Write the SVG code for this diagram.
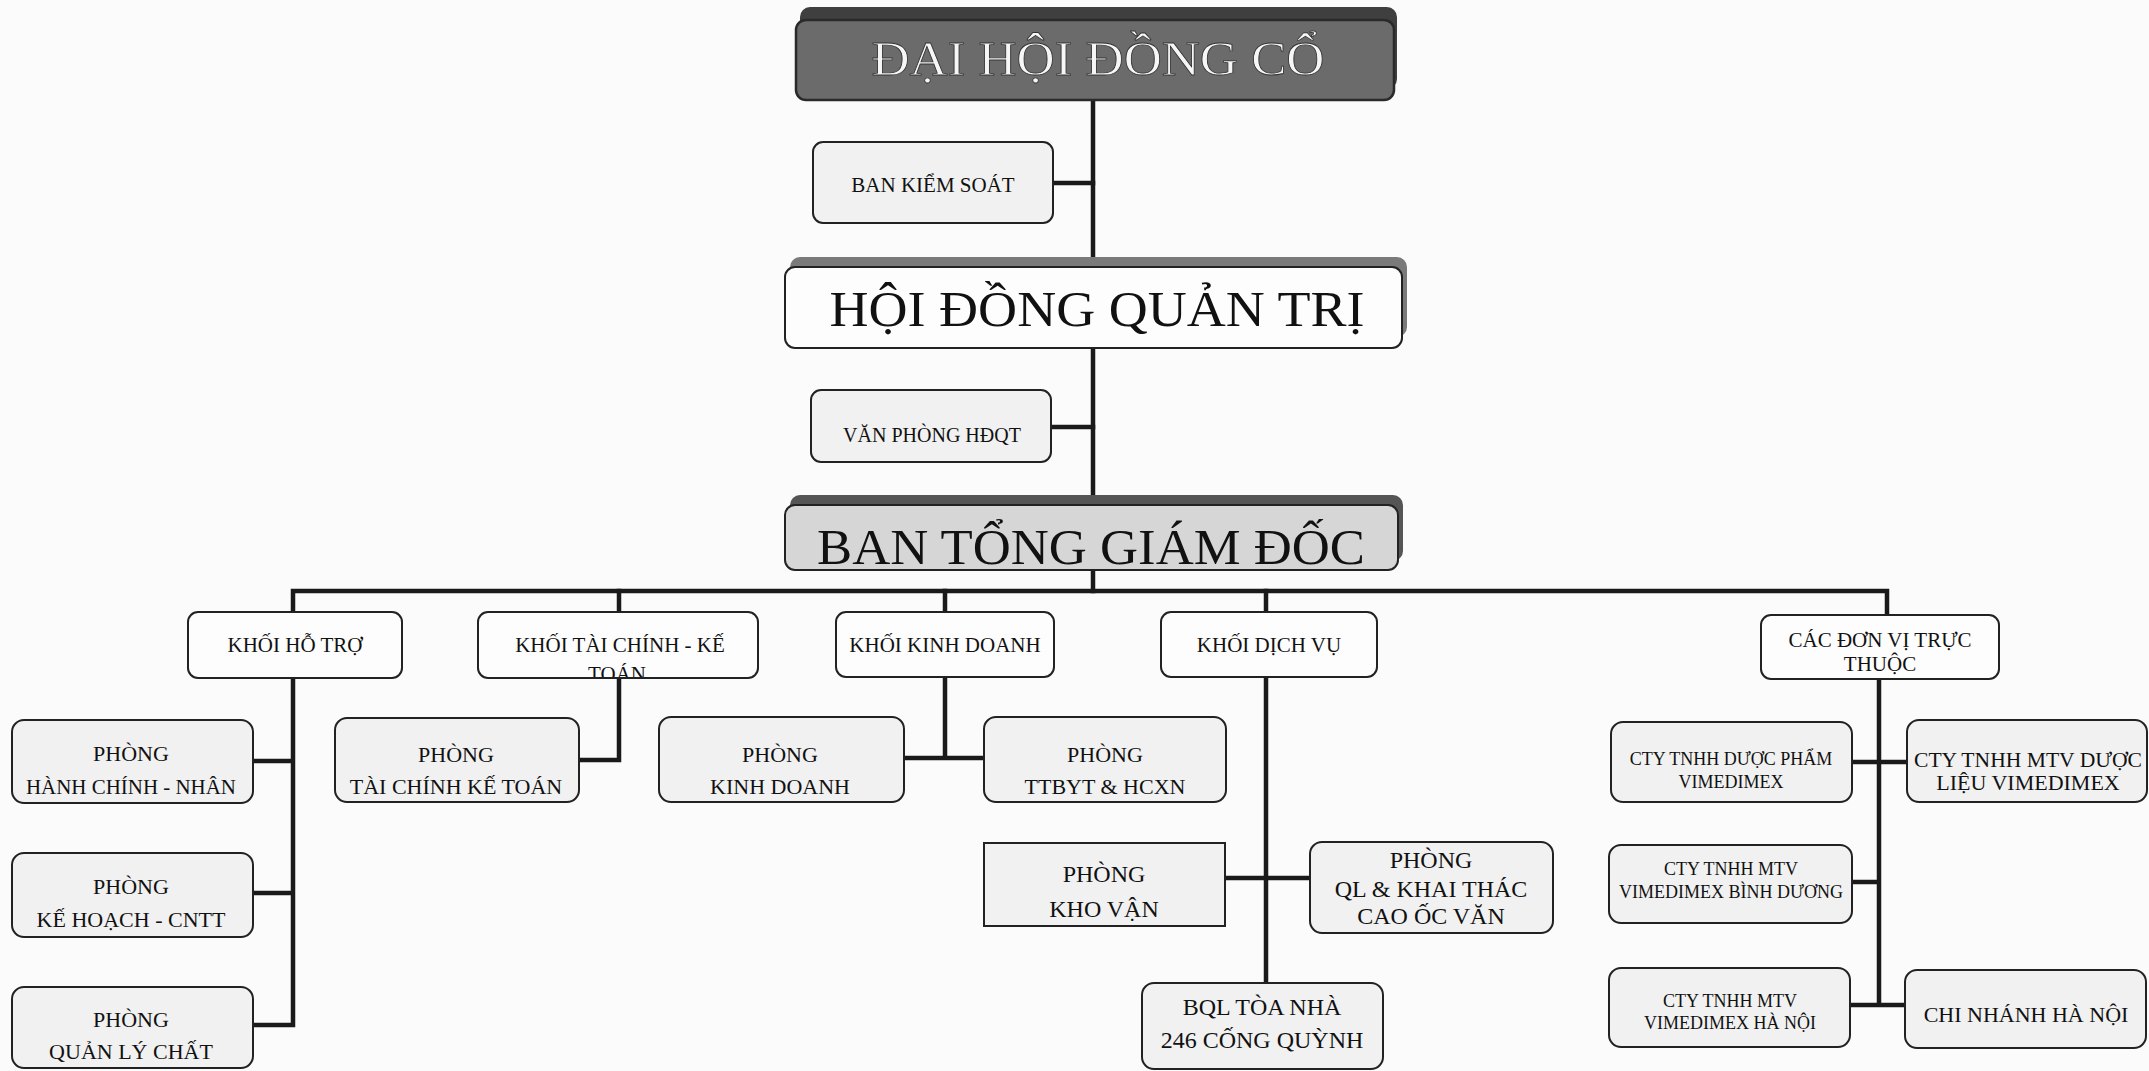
<svg xmlns="http://www.w3.org/2000/svg" width="2149" height="1071" viewBox="0 0 2149 1071">
<defs>
<style>
text{font-family:"Liberation Serif","Times New Roman",serif;fill:#111;text-anchor:middle}
.c{stroke:#1a1a1a;stroke-width:4.5;fill:none;stroke-linecap:square}
.b{fill:#fdfdfd;stroke:#222;stroke-width:2}
.g{fill:#f1f1f1;stroke:#222;stroke-width:2}
.s{font-size:21px}
.m{font-size:22px}
.l{font-size:24px}
.x{font-size:18px}
.y{font-size:22px}
</style>
<clipPath id="clipTC"><rect x="478" y="613" width="280" height="64" rx="10"/></clipPath>
</defs>
<rect width="2149" height="1071" fill="#fbfbfb"/>
<g id="connectors">
<path class="c" d="M1093 100V505"/>
<path class="c" d="M1053 183H1093"/>
<path class="c" d="M1051 427H1093"/>
<path class="c" d="M1093 570V591"/>
<path class="c" d="M293 612V591H1887V615"/>
<path class="c" d="M619 591V612M945 591V612M1266 591V612"/>
<path class="c" d="M293 678V1025M253 761H293M253 893H293M253 1025H293"/>
<path class="c" d="M619 678V760H579"/>
<path class="c" d="M945 677V758M904 758H984"/>
<path class="c" d="M1266 677V983M1225 878H1310"/>
<path class="c" d="M1879 679V1005M1852 762H1907M1852 882H1879M1850 1005H1905"/>
</g>
<g id="dai-hoi-dong-co">
<rect x="800" y="7" width="597" height="82" rx="10" fill="#3f3f3f"/>
<rect x="796" y="20" width="598" height="80" rx="10" fill="#6b6b6b" stroke="#2a2a2a" stroke-width="2.5"/>
<text x="1098" y="75" font-size="48" textLength="453" lengthAdjust="spacingAndGlyphs" style="fill:#f6f6f6;stroke:#333;stroke-width:0.8">ĐẠI HỘI ĐỒNG CỔ</text>
</g>
<g id="ban-kiem-soat">
<rect class="g" x="813" y="142" width="240" height="81" rx="10"/>
<text class="s" x="933" y="192">BAN KIỂM SOÁT</text>
</g>
<g id="hoi-dong-quan-tri">
<rect x="790" y="257" width="617" height="80" rx="10" fill="#7a7a7a"/>
<rect class="b" x="785" y="267" width="617" height="81" rx="10"/>
<text x="1097" y="326" font-size="51" textLength="535" lengthAdjust="spacingAndGlyphs">HỘI ĐỒNG QUẢN TRỊ</text>
</g>
<g id="van-phong-hdqt">
<rect class="g" x="811" y="390" width="240" height="72" rx="10"/>
<text x="932" y="442" font-size="20">VĂN PHÒNG HĐQT</text>
</g>
<g id="ban-tong-giam-doc">
<rect x="790" y="495" width="613" height="66" rx="10" fill="#555"/>
<rect x="785" y="505" width="613" height="65" rx="10" fill="#d6d6d6" stroke="#222" stroke-width="2"/>
<text x="1091" y="564" font-size="50" textLength="548" lengthAdjust="spacingAndGlyphs">BAN TỔNG GIÁM ĐỐC</text>
</g>
<g id="khoi-ho-tro">
<rect class="b" x="188" y="612" width="214" height="66" rx="10"/>
<text class="s" x="295" y="652">KHỐI HỖ TRỢ</text>
</g>
<g id="khoi-tai-chinh">
<rect class="b" x="478" y="612" width="280" height="66" rx="10"/>
<g clip-path="url(#clipTC)">
<text class="s" x="620" y="652">KHỐI TÀI CHÍNH - KẾ</text>
<text class="s" x="617" y="681">TOÁN</text>
</g>
</g>
<g id="khoi-kinh-doanh">
<rect class="b" x="836" y="612" width="218" height="65" rx="10"/>
<text class="s" x="945" y="652">KHỐI KINH DOANH</text>
</g>
<g id="khoi-dich-vu">
<rect class="b" x="1161" y="612" width="216" height="65" rx="10"/>
<text class="s" x="1269" y="652">KHỐI DỊCH VỤ</text>
</g>
<g id="cac-don-vi">
<rect class="b" x="1761" y="615" width="238" height="64" rx="10"/>
<text class="s" x="1880" y="647">CÁC ĐƠN VỊ TRỰC</text>
<text class="s" x="1880" y="671">THUỘC</text>
</g>
<g id="phong-hanh-chinh">
<rect class="g" x="12" y="720" width="241" height="83" rx="12"/>
<text class="m" x="131" y="761">PHÒNG</text>
<text class="m" x="131" y="794" textLength="210" lengthAdjust="spacingAndGlyphs">HÀNH CHÍNH - NHÂN</text>
</g>
<g id="phong-ke-hoach">
<rect class="g" x="12" y="853" width="241" height="84" rx="12"/>
<text class="m" x="131" y="894">PHÒNG</text>
<text class="m" x="131" y="927">KẾ HOẠCH - CNTT</text>
</g>
<g id="phong-quan-ly-chat">
<rect class="g" x="12" y="987" width="241" height="81" rx="12"/>
<text class="m" x="131" y="1027">PHÒNG</text>
<text class="m" x="131" y="1059">QUẢN LÝ CHẤT</text>
</g>
<g id="phong-tai-chinh">
<rect class="g" x="335" y="718" width="244" height="84" rx="12"/>
<text class="m" x="456" y="762">PHÒNG</text>
<text class="m" x="456" y="794">TÀI CHÍNH KẾ TOÁN</text>
</g>
<g id="phong-kinh-doanh">
<rect class="g" x="659" y="717" width="245" height="85" rx="12"/>
<text class="m" x="780" y="762">PHÒNG</text>
<text class="m" x="780" y="794">KINH DOANH</text>
</g>
<g id="phong-ttbyt">
<rect class="g" x="984" y="717" width="242" height="85" rx="12"/>
<text class="m" x="1105" y="762">PHÒNG</text>
<text class="m" x="1105" y="794">TTBYT &amp; HCXN</text>
</g>
<g id="phong-kho-van">
<rect class="g" x="984" y="843" width="241" height="83"/>
<text class="l" x="1104" y="882">PHÒNG</text>
<text class="l" x="1104" y="917">KHO VẬN</text>
</g>
<g id="phong-ql-khai-thac">
<rect class="g" x="1310" y="842" width="243" height="91" rx="12"/>
<text class="l" x="1431" y="868">PHÒNG</text>
<text class="l" x="1431" y="897">QL &amp; KHAI THÁC</text>
<text class="l" x="1431" y="924">CAO ỐC VĂN</text>
</g>
<g id="bql-toa-nha">
<rect class="g" x="1142" y="983" width="241" height="86" rx="12"/>
<text class="l" x="1262" y="1015">BQL TÒA NHÀ</text>
<text class="l" x="1262" y="1048">246 CỐNG QUỲNH</text>
</g>
<g id="cty-duoc-pham">
<rect class="g" x="1611" y="722" width="241" height="80" rx="12"/>
<text class="x" x="1731" y="765">CTY TNHH DƯỢC PHẨM</text>
<text class="x" x="1731" y="788">VIMEDIMEX</text>
</g>
<g id="cty-duoc-lieu">
<rect class="g" x="1907" y="720" width="240" height="82" rx="12"/>
<text class="y" x="2028" y="767" textLength="228" lengthAdjust="spacingAndGlyphs">CTY TNHH MTV DƯỢC</text>
<text class="y" x="2028" y="790">LIỆU VIMEDIMEX</text>
</g>
<g id="cty-binh-duong">
<rect class="g" x="1609" y="845" width="243" height="78" rx="12"/>
<text class="x" x="1731" y="875">CTY TNHH MTV</text>
<text class="x" x="1731" y="898">VIMEDIMEX BÌNH DƯƠNG</text>
</g>
<g id="cty-ha-noi">
<rect class="g" x="1609" y="968" width="241" height="79" rx="12"/>
<text class="x" x="1730" y="1007">CTY TNHH MTV</text>
<text class="x" x="1730" y="1029">VIMEDIMEX HÀ NỘI</text>
</g>
<g id="chi-nhanh-ha-noi">
<rect class="g" x="1905" y="970" width="241" height="78" rx="12"/>
<text class="y" x="2026" y="1022" font-size="23.5">CHI NHÁNH HÀ NỘI</text>
</g>
</svg>
